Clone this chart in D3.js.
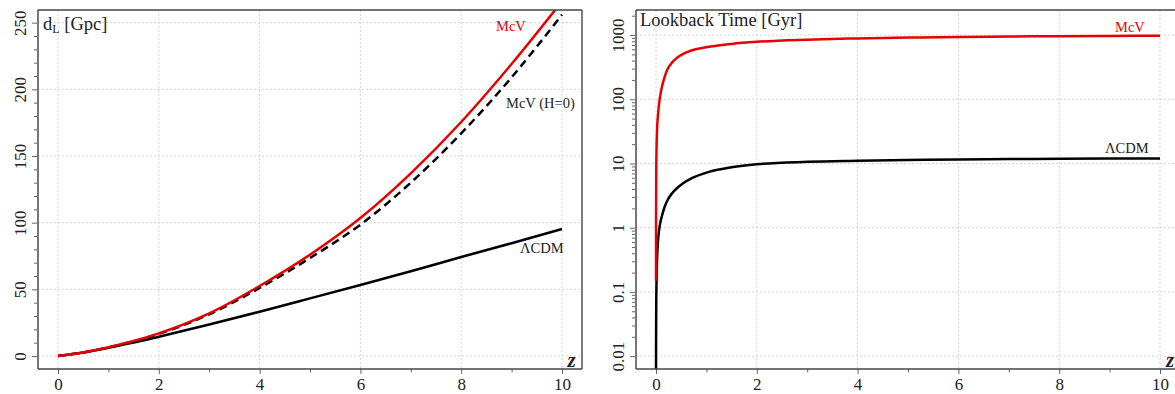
<!DOCTYPE html>
<html>
<head>
<meta charset="utf-8">
<script src="https://cdn.jsdelivr.net/npm/d3@7/dist/d3.min.js"></script>
<style>
	body { margin: 0; background: #fff; }
	svg text { font-family: "Liberation Serif", "Times New Roman", serif; fill: #222; }
</style>
</head>
<body>
<svg width="1175" height="394"></svg>
<script>
// luminosity distance panel
var zDist    = [0, 0.5, 1, 1.5, 2, 3, 4, 5, 6, 7, 8, 9, 10];
var dlMcV    = [0, 2.7, 6.6, 11.2, 17, 32, 52.5, 76, 103.5, 137, 175.5, 219, 266];
var dlMcVH0  = [0, 2.7, 6.5, 11, 16.6, 31.3, 51, 73.5, 98.5, 130, 167, 209, 256];
var dlLCDM   = [0, 2.6, 6.2, 10.1, 14.5, 23.6, 33.2, 43.2, 53.3, 63.6, 74.2, 84.6, 95.2];

// lookback time panel
var zLook    = [0.00013, 0.001, 0.005, 0.01, 0.02, 0.04, 0.06, 0.09, 0.12, 0.17, 0.23, 0.32, 0.42, 0.53, 0.7, 1.05, 1.5, 2, 3, 4, 5, 6, 7, 8, 9, 10];
var tMcV     = [0.15, 1.5, 8, 16, 32, 58, 84, 122, 160, 222, 295, 375, 445, 505, 575, 655, 727, 785, 848, 886, 912, 932, 948, 960, 969, 976];
var tLCDM    = [0.0018, 0.014, 0.07, 0.14, 0.3, 0.62, 0.9, 1.25, 1.55, 2.1, 2.7, 3.45, 4.15, 4.9, 5.85, 7.4, 8.75, 9.75, 10.6, 11.0, 11.3, 11.55, 11.7, 11.85, 11.95, 12.0];

var zTicks     = [0, 2, 4, 6, 8, 10];
var zMinor     = [1, 3, 5, 7, 9];
var distTicks  = [0, 50, 100, 150, 200, 250];
var lookTicks  = [0.01, 0.1, 1, 10, 100, 1000];
var lookLabels = ["0.01", "0.1", "1", "10", "100", "1000"];

var RED = "rgb(230, 0, 0)";
var TOP = 10, BOTTOM = 369;

var svg = d3.select("svg");

function pairs(xs, ys){
	return xs.map(function(x, i){ return { x: x, y: ys[i] } });
}

function panel(opts){
	var x = d3.scaleLinear().domain([-0.397, 10.397]).range([opts.left, opts.right]);
	var y = opts.y;
	var g = svg.append("g");

	var clipId = "clip" + opts.left;
	svg.append("clipPath").attr("id", clipId)
		.append("rect")
		.attr("x", opts.left).attr("y", TOP)
		.attr("width", opts.right - opts.left).attr("height", BOTTOM - TOP);

	// grid
	g.selectAll(".gx").data(zTicks).enter().append("line")
		.attr("x1", x).attr("x2", x).attr("y1", TOP).attr("y2", BOTTOM)
		.attr("stroke", "#d4d4d4").attr("stroke-dasharray", "2,2");
	g.selectAll(".gy").data(opts.yTicks).enter().append("line")
		.attr("x1", opts.left).attr("x2", opts.right)
		.attr("y1", y).attr("y2", y)
		.attr("stroke", "#d4d4d4").attr("stroke-dasharray", "2,2");

	// minor ticks
	var minorY = g.append("g").attr("transform", "translate(" + opts.left + ",0)")
		.call(d3.axisLeft(y).tickValues(opts.yMinor).tickSize(4).tickSizeOuter(0).tickFormat(""));
	var minorX = g.append("g").attr("transform", "translate(0," + BOTTOM + ")")
		.call(d3.axisBottom(x).tickValues(zMinor).tickSize(3.5).tickSizeOuter(0).tickFormat(""));

	// major ticks
	var ay = g.append("g").attr("transform", "translate(" + opts.left + ",0)")
		.call(d3.axisLeft(y).tickValues(opts.yTicks).tickSize(6).tickSizeOuter(0)
			.tickFormat(function(d, i){ return opts.yLabels[i] }));
	ay.selectAll("text")
		.attr("x", 0).attr("dy", null).attr("y", -12.5)
		.attr("transform", "rotate(-90)")
		.style("text-anchor", "middle")
		.style("font-size", "17px");

	var ax = g.append("g").attr("transform", "translate(0," + BOTTOM + ")")
		.call(d3.axisBottom(x).tickValues(zTicks).tickSize(5).tickSizeOuter(0));
	ax.selectAll("text").attr("dy", null).attr("y", 21).style("font-size", "17px");

	[minorY, minorX, ay, ax].forEach(function(a){
		a.select(".domain").remove();
		a.selectAll("line").attr("stroke", "#666");
		a.attr("font-family", null).attr("font-size", null);
	});

	// curves
	var line = d3.line()
		.x(function(d){ return x(d.x) })
		.y(function(d){ return y(d.y) })
		.curve(d3.curveMonotoneX);
	var curves = g.append("g").attr("clip-path", "url(#" + clipId + ")");
	opts.series.forEach(function(s){
		curves.append("path")
			.attr("d", line(s.data))
			.attr("fill", "none")
			.attr("stroke", s.color)
			.attr("stroke-width", 2.5)
			.attr("stroke-dasharray", s.dash || null);
	});

	// frame
	g.append("line").attr("x1", opts.left).attr("x2", opts.left).attr("y1", TOP).attr("y2", BOTTOM)
		.attr("stroke", "#777").attr("stroke-width", 2);
	g.append("line").attr("x1", opts.left).attr("x2", opts.right).attr("y1", BOTTOM).attr("y2", BOTTOM)
		.attr("stroke", "#444").attr("stroke-width", 1.6);
	g.append("line").attr("x1", opts.left).attr("x2", opts.right).attr("y1", TOP).attr("y2", TOP)
		.attr("stroke", "#444").attr("stroke-width", 1.4);
	g.append("line").attr("x1", opts.right).attr("x2", opts.right).attr("y1", TOP).attr("y2", BOTTOM)
		.attr("stroke", "#444").attr("stroke-width", 1.4);

	// labels
	opts.labels.forEach(function(l){
		g.append("text").attr("x", l.x).attr("y", l.y)
			.style("font-size", "14.5px").style("fill", l.color)
			.text(l.text);
	});
	g.append("text").attr("x", opts.zX).attr("y", 366.5)
		.style("font-size", "21px").style("font-style", "italic").style("font-weight", "bold")
		.text("z");

	return g;
}

var yDist = d3.scaleLinear().domain([-9.75, 259.5]).range([BOTTOM, TOP]);
var left = panel({
	left: 38, right: 582, y: yDist,
	yTicks: distTicks,
	yLabels: distTicks.map(String),
	yMinor: d3.range(0, 260, 10).filter(function(v){ return v % 50 != 0 }),
	series: [
		{ data: pairs(zDist, dlLCDM), color: "#000" },
		{ data: pairs(zDist, dlMcVH0), color: "#000", dash: "8,5" },
		{ data: pairs(zDist, dlMcV), color: RED }
	],
	labels: [
		{ x: 496, y: 31, text: "McV", color: RED },
		{ x: 506, y: 108, text: "McV (H=0)", color: "#222" },
		{ x: 520, y: 253, text: "\u039BCDM", color: "#222" }
	],
	zX: 567.5
});
var tl = left.append("text").attr("x", 43).attr("y", 30).style("font-size", "18.5px");
tl.append("tspan").text("d");
tl.append("tspan").attr("dy", 3).style("font-size", "12px").text("L");
tl.append("tspan").attr("dy", -3).text(" [Gpc]");

var yLook = d3.scaleLog().domain([Math.pow(10, -2.2), Math.pow(10, 3.39)]).range([BOTTOM, TOP]);
var logMinor = [];
[0.01, 0.1, 1, 10, 100, 1000].forEach(function(dec){
	[2, 3, 4, 5, 6, 7, 8, 9].forEach(function(k){
		if (dec * k < 2400) logMinor.push(dec * k);
	});
});
var right = panel({
	left: 636, right: 1180, y: yLook,
	yTicks: lookTicks,
	yLabels: lookLabels,
	yMinor: logMinor,
	series: [
		{ data: pairs(zLook, tLCDM), color: "#000" },
		{ data: pairs(zLook, tMcV), color: RED }
	],
	labels: [
		{ x: 1115, y: 31.5, text: "McV", color: RED },
		{ x: 1105, y: 153, text: "\u039BCDM", color: "#222" }
	],
	zX: 1166
});
right.append("text").attr("x", 640).attr("y", 26).style("font-size", "18.5px").text("Lookback Time [Gyr]");
</script>
</body>
</html>
